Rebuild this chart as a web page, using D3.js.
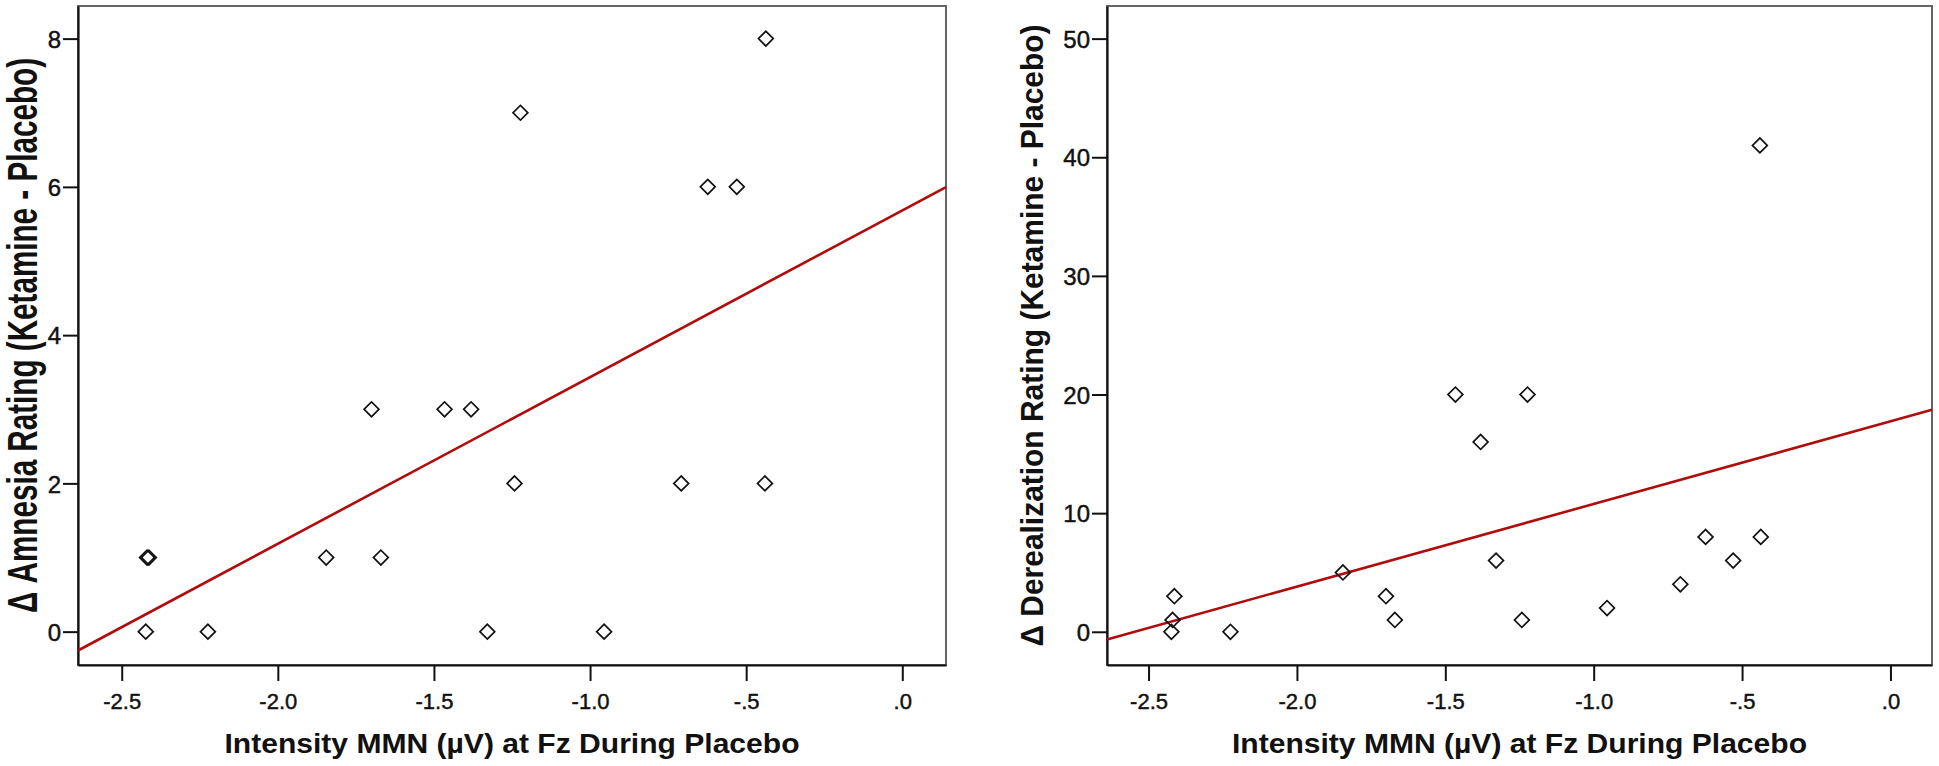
<!DOCTYPE html>
<html>
<head>
<meta charset="utf-8">
<script src="https://cdn.jsdelivr.net/npm/d3@7"></script>
<style>
  body { margin: 0; background: #fff; }
  svg { display: block; }
  .tick text { font-family: "Liberation Sans", Arial, sans-serif; fill: #111; stroke: #111; stroke-width: 0.45px; }
  .title { font-family: "Liberation Sans", Arial, sans-serif; font-weight: bold; fill: #111; }
</style>
</head>
<body>
<svg id="chart"></svg>
<script>
// MMN intensity at Fz during placebo (same 18 subjects in both panels)
var mmn = [-2.423, -2.419, -2.413, -2.224, -1.845, -1.700, -1.670, -1.466, -1.381,
           -1.329, -1.242, -1.223, -0.955, -0.708, -0.623, -0.530, -0.440, -0.437];
// change scores (ketamine - placebo)
var amnesia = [0, 1, 1, 0, 1, 3, 1, 3, 3, 0, 2, 7, 0, 2, 6, 6, 2, 8];
var derealization = [0, 1, 3, 0, 5, 3, 1, 20, 16, 6, 1, 20, 2, 4, 8, 6, 41, 8];

var xTicks = [-2.5, -2.0, -1.5, -1.0, -0.5, 0.0];
var xTickLabels = ["-2.5", "-2.0", "-1.5", "-1.0", "-.5", ".0"];
var amnesiaTicks = [0, 2, 4, 6, 8];
var derealTicks = [0, 10, 20, 30, 40, 50];

var xTitle = "Intensity MMN (\u00b5V) at Fz During Placebo";

var svg = d3.select("#chart").attr("width", 1939).attr("height", 766);

function fitLine(xs, ys) {
    var mx = d3.mean(xs), my = d3.mean(ys);
    var sxy = 0, sxx = 0;
    xs.forEach(function (x, i) {
        sxy += (x - mx) * (ys[i] - my);
        sxx += (x - mx) * (x - mx);
    });
    var b = sxy / sxx;
    return { slope: b, intercept: my - b * mx };
}

function drawPanel(opt) {
    var width = opt.width, height = opt.height;
    var g = svg.append("g")
        .attr("transform", "translate(" + opt.left + "," + opt.top + ")");

    var x = d3.scaleLinear().domain([-2.64, 0.14]).range([0, width]);
    var y = d3.scaleLinear().domain(opt.yDomain).range([height, 0]);

    // frame
    g.append("rect")
        .attr("width", width).attr("height", height)
        .attr("fill", "none").attr("stroke", "#666").attr("stroke-width", 2);

    var xAxis = g.append("g")
        .attr("transform", "translate(0," + height + ")")
        .call(d3.axisBottom(x).tickValues(xTicks).tickSize(16).tickSizeOuter(0).tickPadding(12)
            .tickFormat(function (d, i) { return xTickLabels[i]; }));
    xAxis.selectAll("text").style("font-size", "22px");

    var yAxis = g.append("g")
        .call(d3.axisLeft(y).tickValues(opt.yTicks).tickSize(15).tickSizeOuter(0).tickPadding(2));
    yAxis.selectAll("text").style("font-size", "24px").attr("dy", "0.36em");

    [xAxis, yAxis].forEach(function (a) {
        a.select(".domain").attr("stroke", "#111").attr("stroke-width", 2.2);
        a.selectAll(".tick line").attr("stroke", "#111").attr("stroke-width", 2);
    });

    // regression line
    var fit = fitLine(mmn, opt.values);
    var xd = x.domain();
    g.append("line")
        .attr("x1", x(xd[0])).attr("y1", y(fit.intercept + fit.slope * xd[0]))
        .attr("x2", x(xd[1])).attr("y2", y(fit.intercept + fit.slope * xd[1]))
        .attr("stroke", "#b00c0c").attr("stroke-width", 2.6);

    // points
    var diamond = d3.symbol().type(d3.symbolSquare).size(110);
    g.selectAll(".pt")
        .data(mmn)
        .enter()
        .append("path")
        .attr("class", "pt")
        .attr("d", diamond)
        .attr("transform", function (d, i) {
            return "translate(" + x(d) + "," + y(opt.values[i]) + ") rotate(45)";
        })
        .attr("fill", "none").attr("stroke", "#111").attr("stroke-width", 1.7);

    // axis titles
    g.append("text")
        .attr("class", "title")
        .attr("x", width / 2).attr("y", 747)
        .attr("text-anchor", "middle")
        .attr("textLength", 575).attr("lengthAdjust", "spacingAndGlyphs")
        .style("font-size", "28px")
        .text(xTitle);

    g.append("text")
        .attr("class", "title")
        .attr("transform", "translate(" + opt.yTitleX + "," + (height / 2) + ") scale(" + opt.yTitleStretch + ",1) rotate(-90)")
        .attr("text-anchor", "middle")
        .attr("textLength", opt.yTitleLen).attr("lengthAdjust", "spacingAndGlyphs")
        .style("font-size", "28px")
        .text(opt.yTitle);
}

drawPanel({
    left: 78, top: 6, width: 868, height: 659,
    yDomain: [-0.45, 8.44], yTicks: amnesiaTicks, values: amnesia,
    yTitle: "\u0394 Amnesia Rating (Ketamine - Placebo)",
    yTitleX: 36.7 - 78, yTitleStretch: 1.5, yTitleLen: 555
});

drawPanel({
    left: 1107, top: 6, width: 825, height: 659,
    yDomain: [-2.8, 52.75], yTicks: derealTicks, values: derealization,
    yTitle: "\u0394 Derealization Rating (Ketamine - Placebo)",
    yTitleX: 1043 - 1107, yTitleStretch: 1.15, yTitleLen: 622
});
</script>
</body>
</html>
